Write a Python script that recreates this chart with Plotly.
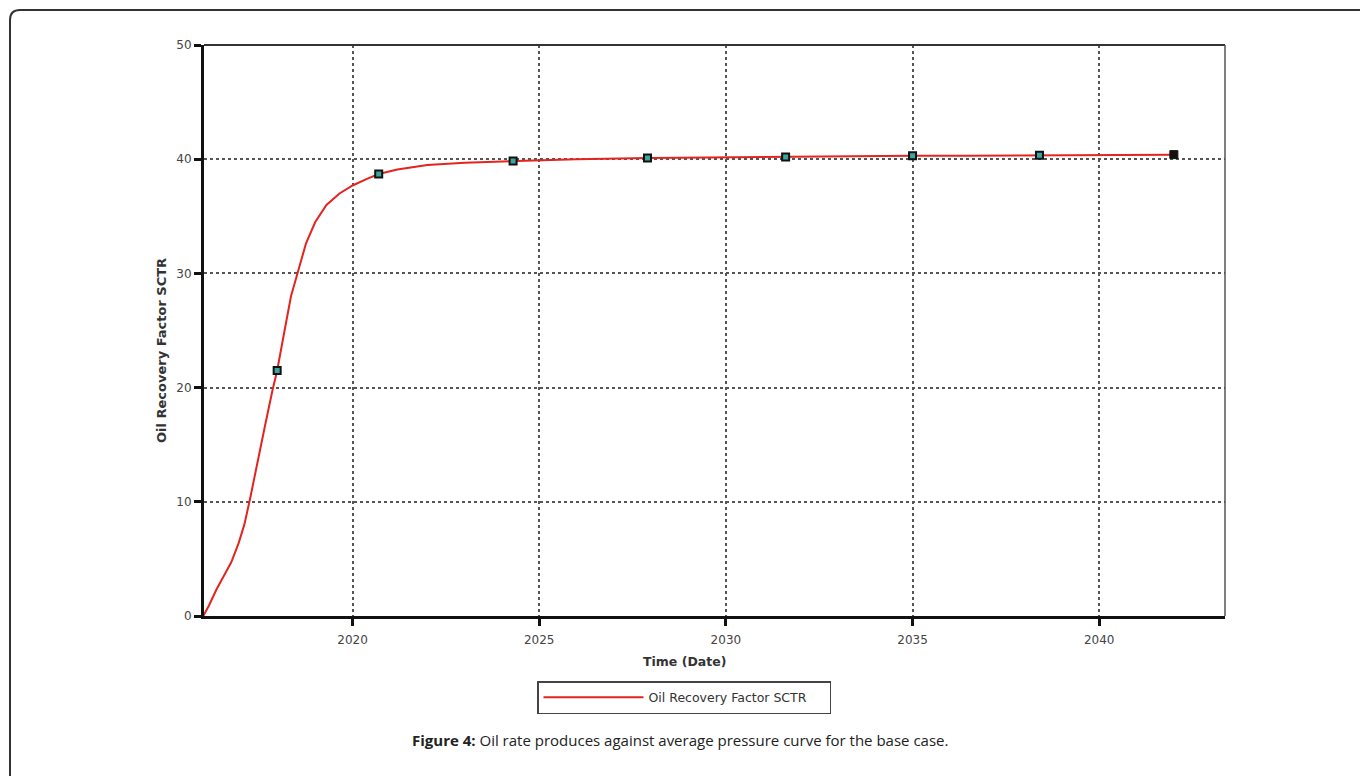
import plotly.graph_objects as go

# Curve data (decimal years, recovery factor %)
curve_years = [2016.00, 2016.15, 2016.35, 2016.55, 2016.75, 2016.95, 2017.10, 2017.25,
               2017.45, 2017.65, 2017.85, 2017.98, 2018.15, 2018.35, 2018.55, 2018.75,
               2019.00, 2019.30, 2019.65, 2020.00, 2020.40, 2020.70, 2021.20, 2022.00,
               2023.00, 2024.30, 2026.00, 2027.90, 2029.50, 2031.60, 2033.00, 2035.00,
               2036.50, 2038.40, 2040.00, 2042.00]
curve_values = [0.0, 0.9, 2.3, 3.5, 4.7, 6.4, 8.0, 10.2,
                13.5, 16.6, 19.7, 21.5, 24.5, 28.0, 30.3, 32.6,
                34.5, 36.0, 37.0, 37.7, 38.3, 38.7, 39.1, 39.5,
                39.7, 39.85, 40.0, 40.1, 40.15, 40.2, 40.25, 40.3,
                40.3, 40.35, 40.38, 40.4]

marker_years = [2016.0, 2017.98, 2020.7, 2024.3, 2027.9, 2031.6, 2035.0, 2038.4]
marker_values = [0.0, 21.5, 38.7, 39.85, 40.1, 40.2, 40.3, 40.35]
last_year = [2042.0]
last_value = [40.4]

x_ticks = [2020, 2025, 2030, 2035, 2040]
y_ticks = [0, 10, 20, 30, 40, 50]

series_name = "Oil Recovery Factor SCTR"
x_title = "Time (Date)"
y_title = "Oil Recovery Factor SCTR"
caption_bold = "Figure 4:"
caption_rest = " Oil rate produces against average pressure curve for the base case."

fig = go.Figure()
fig.add_trace(go.Scatter(
    x=curve_years, y=curve_values, mode="lines", name=series_name,
    line=dict(color="#e3241f", width=2), cliponaxis=False))
fig.add_trace(go.Scatter(
    x=marker_years, y=marker_values, mode="markers", showlegend=False,
    marker=dict(symbol="square", size=7, color="#3aa6a2",
                line=dict(color="#111", width=2)), cliponaxis=False))
fig.add_trace(go.Scatter(
    x=last_year, y=last_value, mode="markers", showlegend=False,
    marker=dict(symbol="square", size=8, color="#111",
                line=dict(color="#111", width=1)), cliponaxis=False))

L, R, T, B = 204, 135, 45, 160
pw = 1360 - L - R
ph = 776 - T - B

def px(xp):
    return (xp - L) / pw

def py(yp):
    return (776 - B - yp) / ph

# outer rounded frame
x0, y0 = px(10), py(10)
x1, y1 = px(1400), py(820)
rx, ry = 10 / pw, 10 / ph
frame_path = (f"M {x0},{y1} L {x0},{y0 - ry} Q {x0},{y0} {x0 + rx},{y0} L {x1},{y0}")

shapes = [
    dict(type="path", xref="paper", yref="paper", path=frame_path,
         line=dict(color="#333", width=2), layer="below"),
    # top and right plot borders (thinner)
    dict(type="line", xref="paper", yref="paper", x0=0, x1=1, y0=1, y1=1,
         line=dict(color="#333", width=2)),
    dict(type="line", xref="paper", yref="paper", x0=1, x1=1, y0=0, y1=1,
         line=dict(color="#555", width=1.5)),
]

fig.update_layout(
    width=1360, height=776,
    margin=dict(l=L, r=R, t=T, b=B, autoexpand=False),
    paper_bgcolor="white", plot_bgcolor="white",
    font=dict(family="DejaVu Sans, Verdana, sans-serif", size=11, color="#444"),
    showlegend=True,
    legend=dict(x=px(537), y=py(681), xanchor="left", yanchor="top",
                orientation="h", bordercolor="#444", borderwidth=1.5,
                bgcolor="white", itemwidth=100,
                font=dict(size=12.5, color="#333"), entrywidth=176),
    shapes=shapes,
    annotations=[
        dict(text=f"<b>{caption_bold}</b>{caption_rest}", xref="paper", yref="paper",
             x=px(680), y=py(740), xanchor="center", yanchor="middle", showarrow=False,
             font=dict(family="Open Sans, sans-serif", size=15, color="#222")),
        dict(text=f"<b>{x_title}</b>", xref="paper", yref="paper",
             x=px(684), y=py(661), xanchor="center", yanchor="middle", showarrow=False,
             font=dict(size=12.5, color="#333")),
        dict(text=f"<b>{y_title}</b>", xref="paper", yref="paper", textangle=-90,
             x=px(161), y=py(351), xanchor="center", yanchor="middle", showarrow=False,
             font=dict(size=13, color="#333")),
    ],
    xaxis=dict(range=[2016.02, 2043.37], tickmode="array", tickvals=x_ticks,
               ticktext=[str(v) for v in x_ticks],
               tickfont=dict(size=12, color="#444"), ticklabelstandoff=4,
               showline=True, linecolor="#111", linewidth=3,
               ticks="outside", ticklen=7, tickwidth=3, tickcolor="#111",
               showgrid=True, gridcolor="#555", gridwidth=1.5, griddash="dot",
               zeroline=False),
    yaxis=dict(range=[0, 50], tickmode="array", tickvals=y_ticks,
               tickfont=dict(size=12, color="#444"),
               showline=True, linecolor="#111", linewidth=3,
               ticks="outside", ticklen=7, tickwidth=3, tickcolor="#111",
               showgrid=True, gridcolor="#555", gridwidth=1.5, griddash="3px,3px",
               zeroline=False),
)

fig.write_html("out.html")
